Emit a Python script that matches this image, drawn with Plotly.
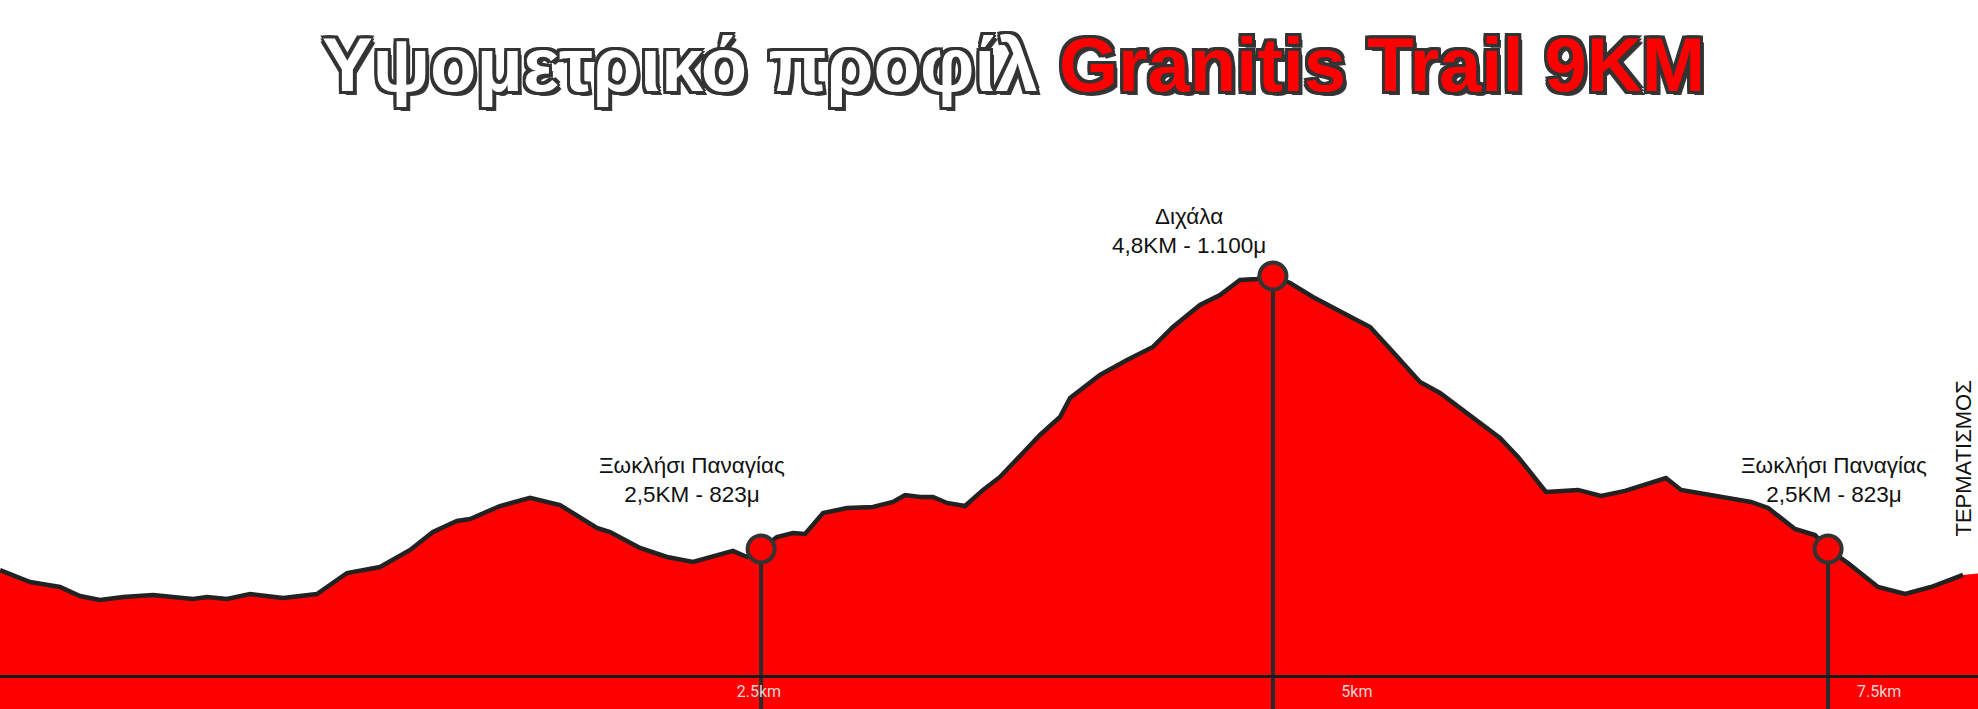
import plotly.graph_objects as go

# ---- elevation profile (distance in km along the drawn axis, elevation in m) ----
dist_km = [0.000, 0.137, 0.273, 0.364, 0.455, 0.560, 0.696, 0.878, 0.942, 1.033,
           1.138, 1.288, 1.442, 1.579, 1.729, 1.866, 1.970, 2.079, 2.139, 2.275,
           2.412, 2.548, 2.716, 2.776, 2.912, 3.035, 3.153, 3.335, 3.399, 3.463,
           3.535, 3.608, 3.663, 3.745, 3.854, 3.972, 4.063, 4.118, 4.186, 4.245,
           4.309, 4.391, 4.473, 4.550, 4.732, 4.823, 4.869, 5.005, 5.128, 5.246,
           5.337, 5.460, 5.551, 5.642, 5.719, 5.792, 5.870, 5.974, 6.129, 6.234,
           6.338, 6.461, 6.552, 6.702, 6.825, 6.907, 7.034, 7.180, 7.285, 7.394,
           7.512, 7.580, 7.649, 7.785, 7.967, 8.045, 8.167, 8.258, 8.318, 8.408,
           8.545, 8.668, 8.786, 8.932]
elev_m = [801.5, 789.5, 784.4, 775.3, 771.3, 774.3, 776.3, 772.3, 774.3, 772.3,
          777.3, 773.3, 777.3, 798.6, 804.7, 822.0, 840.3, 851.4, 853.4, 866.6,
          874.8, 867.6, 844.3, 840.2, 824.0, 814.9, 809.8, 821.0, 814.9, 823.0,
          835.2, 839.2, 838.2, 859.5, 864.6, 865.6, 870.7, 877.8, 875.8, 875.8,
          869.7, 866.6, 882.9, 896.1, 938.7, 956.9, 976.2, 999.6, 1014.8, 1028.0,
          1048.3, 1070.6, 1080.7, 1096.0, 1097.0, 1100.0, 1092.9, 1078.7, 1060.4, 1048.3,
          1022.9, 992.5, 981.3, 956.9, 935.6, 916.4, 880.8, 882.9, 876.8, 881.9,
          890.0, 895.0, 882.9, 877.8, 870.7, 864.6, 843.3, 837.2, 823.0, 808.8,
          784.4, 777.3, 784.4, 796.6]

# the red area continues a little past the end of the outline
area_end_km = 9.0
area_end_elev = 798.0

# ---- points of interest ----
poi_name = ["Ξωκλήσι Παναγίας", "Διχάλα", "Ξωκλήσι Παναγίας"]
poi_info = ["2,5KM - 823μ", "4,8KM - 1.100μ", "2,5KM - 823μ"]
poi_km = [3.463, 5.792, 8.318]
poi_elev = [823, 1100, 823]
poi_label_dx = [-69, -84, 6]
poi_label_dy = [40, 16, 40]

# ---- x-axis tick labels ----
tick_pos = [3.453, 6.174, 8.550]
tick_text = ["2.5km", "5km", "7.5km"]

title_a = "Υψομετρικό προφίλ "
title_b = "Granitis Trail 9KM"
finish_text = "ΤΕΡΜΑΤΙΣΜΟΣ"

RED = "#ff0000"
DARK = "#222222"
FONT = "Liberation Sans, Arial, sans-serif"

fig = go.Figure()

# red area
fig.add_trace(go.Scatter(
    x=dist_km + [area_end_km], y=elev_m + [area_end_elev], mode="lines",
    fill="tozeroy", fillcolor=RED, line=dict(color=RED, width=0),
    hoverinfo="skip", showlegend=False))

# outline of the profile
fig.add_trace(go.Scatter(
    x=dist_km, y=elev_m, mode="lines",
    line=dict(color=DARK, width=4.5, shape="linear"),
    hoverinfo="skip", showlegend=False))

for xk, ye in zip(poi_km, poi_elev):
    fig.add_trace(go.Scatter(
        x=[xk, xk], y=[ye, 0], mode="lines",
        line=dict(color="#2a2a2a", width=4), hoverinfo="skip", showlegend=False))

fig.add_trace(go.Scatter(
    x=poi_km, y=poi_elev, mode="markers",
    marker=dict(size=27, color=RED, line=dict(color="#333333", width=4)),
    hoverinfo="skip", showlegend=False))

for name, info, xk, ye, dx, dy in zip(poi_name, poi_info, poi_km, poi_elev,
                                      poi_label_dx, poi_label_dy):
    fig.add_annotation(x=xk, y=ye, xref="x", yref="y", text=f"{name}<br>{info}",
                       showarrow=False, xanchor="center", yanchor="bottom",
                       xshift=dx, yshift=dy, align="center",
                       font=dict(family=FONT, size=22.5, color="#111111"))

outline = ("-3px -3px 0 #333, 3px -3px 0 #333, -3px 3px 0 #333, 3px 3px 0 #333, "
           "0 -3px 0 #333, 0 3px 0 #333, -3px 0 0 #333, 3px 0 0 #333, "
           "4px 4px 0 #3a3a3a")
fig.add_annotation(
    x=0.5124, y=0.9095, xref="paper", yref="paper", showarrow=False,
    xanchor="center", yanchor="middle",
    text=f"<b>{title_a}</b><b><span style='color:{RED}'>{title_b}</span></b>",
    font=dict(family=FONT, size=76, color="#ffffff", shadow=outline))

fig.add_annotation(
    x=1.0, y=0.3526, xref="paper", yref="paper", showarrow=False,
    xanchor="right", yanchor="middle", textangle=-90, text=finish_text,
    font=dict(family=FONT, size=22, color="#111111"))

fig.update_layout(
    width=1978, height=709,
    margin=dict(l=0, r=0, t=0, b=0),
    paper_bgcolor="white", plot_bgcolor="white",
    xaxis=dict(range=[0, 9.0], showgrid=False, zeroline=False,
               anchor="free", position=33 / 709,
               showline=True, linecolor="#1a1a1a", linewidth=3,
               ticks="", tickmode="array", tickvals=tick_pos, ticktext=tick_text,
               tickfont=dict(family="Roboto, sans-serif", size=16, color="#e6d4d4")),
    yaxis=dict(range=[660.6, 1380.1], visible=False, showgrid=False, zeroline=False),
)

fig.write_html("out.html", config={"displayModeBar": False},
               post_script="document.body.style.margin='0';document.body.style.overflow='hidden';")
